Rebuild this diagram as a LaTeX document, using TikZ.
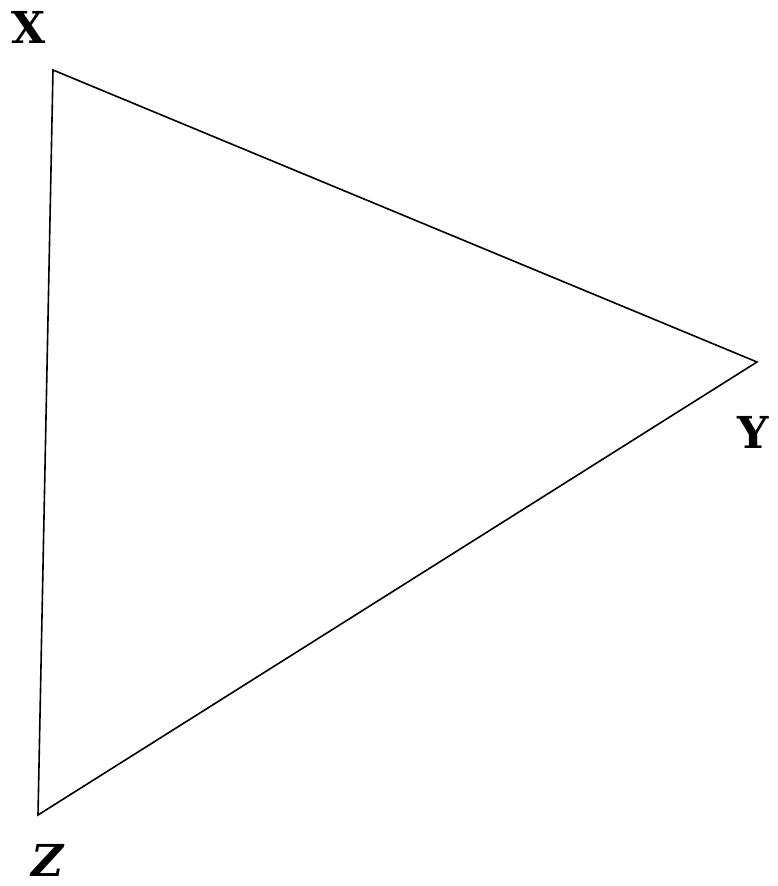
\documentclass[tikz,border=0pt]{standalone}
\usepackage{fontspec}
\setmainfont{DejaVu Serif}
\usepackage{tikz}
\usetikzlibrary{calc,positioning}

\begin{document}
\begin{tikzpicture}[x=1pt,y=-1pt,lab/.style={font=\fontsize{44}{48}\selectfont\bfseries,inner sep=0pt}]
\useasboundingbox (0,0) rectangle (777,886);
\coordinate (X) at (53,70);
\coordinate (Y) at (757,362);
\coordinate (Z) at (38,815);
\draw[line width=1.6pt,line join=miter] (X)--(Y)--(Z)--cycle;
\node[lab] (labX) at (29,27) {X};
\node[lab] (labY) at (753,432) {Y};
\node[lab] (labZ) at (48,860) {\itshape Z};
\end{tikzpicture}
\end{document}
